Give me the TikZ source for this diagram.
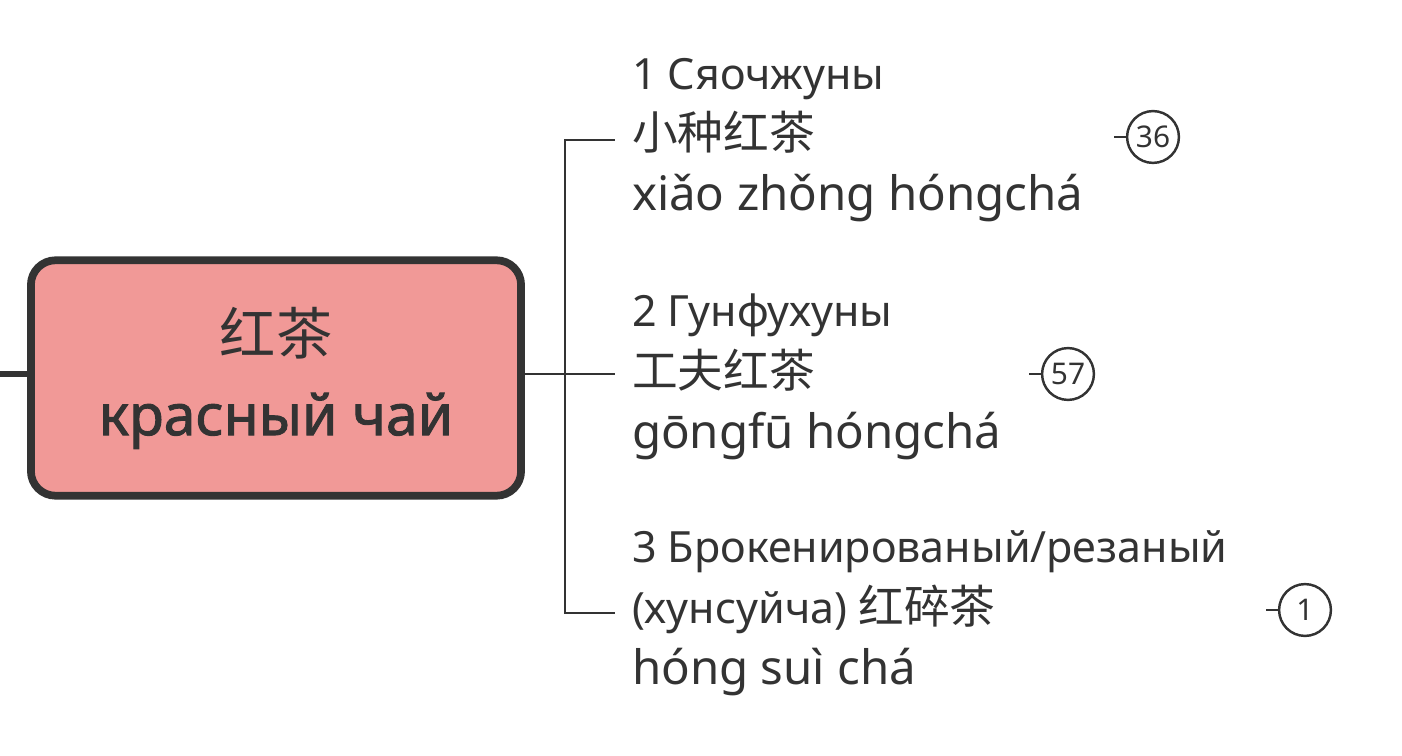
\documentclass[tikz,border=0pt]{standalone}
\usepackage{fontspec}
\setmainfont{Noto Sans}
\newfontfamily\cjk{Noto Sans CJK SC}
\newfontfamily\heavy{Noto Sans}[FakeBold=1.6]
\definecolor{ink}{HTML}{333333}
\definecolor{boxfill}{HTML}{F19997}
\newcommand{\py}[1]{{\fontsize{27}{36}\selectfont #1}}
\begin{document}
\begin{tikzpicture}[x=0.02cm,y=-0.02cm,
  central/.style={draw=ink,fill=boxfill,line width=4.4pt,rounded corners=14pt,
    minimum width=279pt,minimum height=134pt,align=center,text=ink,
    font=\fontsize{32}{46}\selectfont},
  branchtext/.style={anchor=west,align=left,text=ink,inner xsep=9.5pt,inner ysep=0pt,
    font=\fontsize{24.5}{34.6}\selectfont},
  count/.style={circle,draw=ink,line width=1.4pt,minimum size=29.5pt,inner sep=0pt,text=ink,
    font=\fontsize{17}{17}\selectfont},
  conn/.style={draw=ink,line width=1.4pt},
]
\useasboundingbox (0,0) rectangle (1402,756);
\node[central] (c) at (276,378) {{\cjk 红茶}\\[0pt]{\heavy\fontsize{32.5}{40}\selectfont красный чай}};
\coordinate (lstub) at (0,374);
\draw[ink,line width=3.4pt] (lstub) -- (lstub -| c.west);
\coordinate (j) at (565,374);
\node[branchtext] (b1) at (615,140) {1 Сяочжуны\\{\cjk\fontsize{26}{34.6}\selectfont 小种红茶}\\\py{xiǎo zhǒng hóngchá}};
\node[branchtext] (b2) at (615,377) {2 Гунфухуны\\{\cjk\fontsize{26}{34.6}\selectfont 工夫红茶}\\\py{gōngfū hóngchá}};
\node[branchtext] (b3) at (615,613) {3 Брокенированый/резаный\\(хунсуйча) {\cjk\fontsize{26}{34.6}\selectfont 红碎茶}\\\py{hóng suì chá}};
\draw[conn] (c.east |- j) -- (j);
\draw[conn] (j) |- (b1.west);
\draw[conn] (j) -- (b2.west |- j);
\draw[conn] (j) |- (b3.west);
\node[count] (n1) at (1153,137) {36};
\node[count] (n2) at (1068,374) {57};
\node[count] (n3) at (1305,610) {1};
\draw[conn] (n1.west) -- ++(-12,0) coordinate (s1);
\draw[conn] (n2.west) -- ++(-12,0) coordinate (s2);
\draw[conn] (n3.west) -- ++(-12,0) coordinate (s3);
\end{tikzpicture}
\end{document}
